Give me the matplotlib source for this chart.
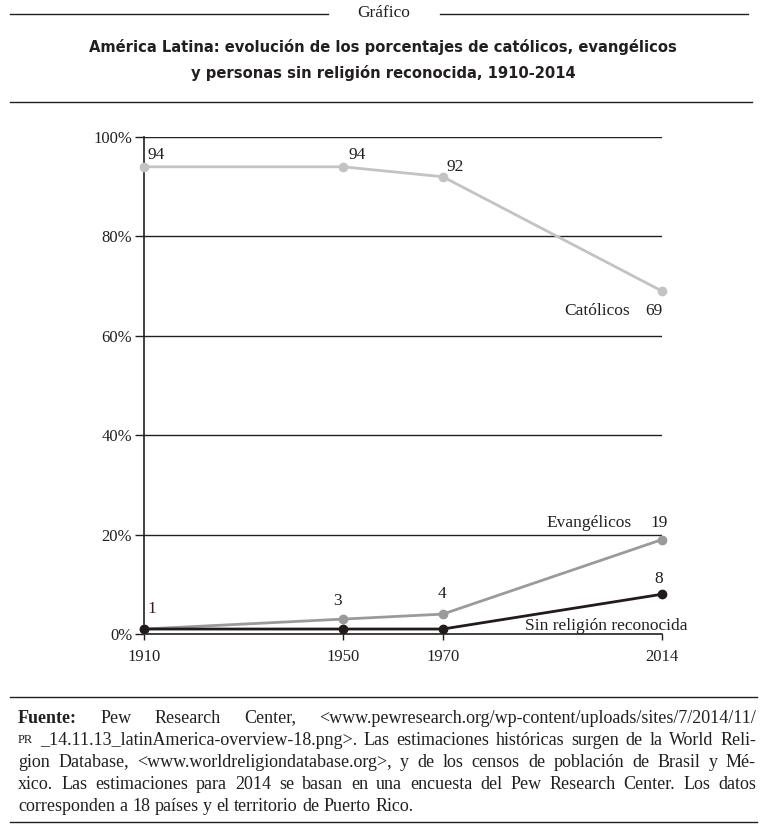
import matplotlib
matplotlib.use("Agg")
import matplotlib.pyplot as plt
from matplotlib.lines import Line2D
from matplotlib import font_manager

# ---------------------------------------------------------------
# data
# ---------------------------------------------------------------
years = [1910, 1950, 1970, 2014]
catolicos = [94, 94, 92, 69]
evangelicos = [1, 3, 4, 19]
sin_religion = [1, 1, 1, 8]
yticks = [0, 20, 40, 60, 80, 100]
ytick_labels = ["0%", "20%", "40%", "60%", "80%", "100%"]

title = ("América Latina: evolución de los porcentajes de católicos, evangélicos\n"
         "y personas sin religión reconocida, 1910-2014")
note_lines = [
    "Fuente: Pew Research Center, <www.pewresearch.org/wp-content/uploads/sites/7/2014/11/",
    "PR _14.11.13_latinAmerica-overview-18.png>. Las estimaciones históricas surgen de la World Reli-",
    "gion Database, <www.worldreligiondatabase.org>, y de los censos de población de Brasil y Mé-",
    "xico. Las estimaciones para 2014 se basan en una encuesta del Pew Research Center. Los datos",
    "corresponden a 18 países y el territorio de Puerto Rico.",
]

SERIF = "Liberation Serif"
C_CAT = "#c3c3c6"
C_EVA = "#9a9a9a"
C_SIN = "#231a1a"
INK = "#231f20"

# condensed bold for the title, if there is one
names = {f.name for f in font_manager.fontManager.ttflist}
if "Liberation Sans Narrow" in names:
    COND = dict(family="Liberation Sans Narrow")
else:
    COND = dict(family="DejaVu Sans", fontstretch="condensed")

W, H = 768, 830
fig = plt.figure(figsize=(W / 100, H / 100), dpi=100)


def fx(x):
    return x / W


def fy(y):
    return 1 - y / H


def hline(x0, x1, y, lw=1.0):
    fig.add_artist(Line2D([fx(x0), fx(x1)], [fy(y), fy(y)], color=INK, lw=lw,
                          transform=fig.transFigure))


# ---------------------------------------------------------------
# header
# ---------------------------------------------------------------
hline(10, 328, 14)
hline(440, 748, 14)
fig.text(fx(384), fy(13), "Gráfico", ha="center", va="center",
         family=SERIF, fontsize=12.5, color=INK)
fig.text(fx(383), fy(60), title, ha="center", va="center",
         fontweight="bold", fontsize=11.8, linespacing=1.75, color=INK, **COND)
hline(10, 752, 102)

# ---------------------------------------------------------------
# chart
# ---------------------------------------------------------------
ax = fig.add_axes([fx(144), fy(634), fx(662) - fx(144), (634 - 137) / H])
ax.set_xlim(1910, 2014)
ax.set_ylim(0, 100)

ax.plot(years, catolicos, color=C_CAT, lw=2, marker="o", ms=6, clip_on=False, zorder=3)
ax.plot(years, evangelicos, color=C_EVA, lw=2, marker="o", ms=6, clip_on=False, zorder=4)
ax.plot(years, sin_religion, color=C_SIN, lw=2, marker="o", ms=6, clip_on=False, zorder=5)

ax.set_yticks(yticks)
ax.set_yticklabels(ytick_labels, family=SERIF, fontsize=12, color=INK)
ax.set_xticks(years)
ax.set_xticklabels([str(y) for y in years], family=SERIF, fontsize=12, color=INK)
ax.tick_params(axis="y", length=6.5, width=1, color=INK, pad=2)
ax.tick_params(axis="x", length=4, width=1, color=INK, pad=7)
for yv in yticks[1:]:
    ax.axhline(yv, color=INK, lw=1, zorder=1)
for s in ["top", "right"]:
    ax.spines[s].set_visible(False)
for s in ["left", "bottom"]:
    ax.spines[s].set_color(INK)
    ax.spines[s].set_linewidth(1.2)


def label(txt, x, y, dx, dy, ha="center", color=INK):
    ax.annotate(txt, (x, y), xytext=(dx, dy), textcoords="offset pixels",
                ha=ha, va="center", family=SERIF, fontsize=12.5, color=color,
                annotation_clip=False)


label("94", years[0], catolicos[0], 4, 12, ha="left")
label("94", years[1], catolicos[1], 5, 12, ha="left")
label("92", years[2], catolicos[2], 4, 10, ha="left")
label("69", years[3], catolicos[3], 1, -20, ha="right")
label("Católicos", years[3], catolicos[3], -32, -20, ha="right")

label("1", years[0], evangelicos[0], 8, 20, color="#3a1a14")
label("3", years[1], evangelicos[1], -6, 18)
label("4", years[2], evangelicos[2], -1, 20)
label("19", years[3], evangelicos[3], -3, 17)
label("Evangélicos", years[3], evangelicos[3], -30, 17, ha="right")

label("8", years[3], sin_religion[3], -3, 15)
label("Sin religión reconocida", years[3], sin_religion[3], -56, -32)

# ---------------------------------------------------------------
# source note (justified)
# ---------------------------------------------------------------
hline(10, 757, 697)
renderer = fig.canvas.get_renderer()
left, right = 18, 756
for i, line in enumerate(note_lines):
    y = fy(718 + i * 22)
    words = line.split(" ")
    arts = []
    for j, w in enumerate(words):
        kw = dict(family=SERIF, fontsize=13, color=INK, va="center", ha="left")
        if i == 0 and j == 0:
            kw["fontweight"] = "bold"
        if i == 1 and j == 0:
            kw["fontsize"] = 9
        arts.append(fig.text(fx(left), y, w, **kw))
    widths = [a.get_window_extent(renderer).width for a in arts]
    if i < len(note_lines) - 1:
        gap = (right - left - sum(widths)) / (len(words) - 1)
    else:
        gap = 4.5
    x = left
    for a, wd in zip(arts, widths):
        a.set_x(fx(x))
        x += wd + gap
hline(10, 757, 822)

fig.savefig("out.png", dpi=100)
